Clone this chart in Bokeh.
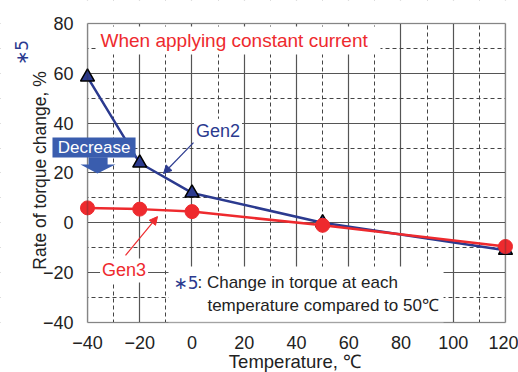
from math import pi
from bokeh.plotting import figure
from bokeh.models import (Label, BoxAnnotation, PolyAnnotation, Arrow, NormalHead,
                          FixedTicker, Range1d)
from bokeh.embed import file_html
from bokeh.resources import INLINE

# ---- data ----
temps = [-40, -20, 0, 50, 120]
gen2 = [58.5, 24, 12, 0, -11]
gen3 = [6, 5.5, 4.5, -1, -9.5]
x_ticks = [-40, -20, 0, 20, 40, 60, 80, 100, 120]
x_minor = [-30, -10, 10, 30, 50, 70, 90, 110]
y_ticks = [-40, -20, 0, 20, 40, 60, 80]
y_minor = [-30, -10, 10, 30, 50, 70]
x_tick_labels = {-40: "\u221240", -20: "\u221220"}
y_tick_labels = {-40: "\u221240", -20: "\u221220"}

NAVY = "#2B3A8F"
RED = "#EE2A2E"
BLUE_BOX = "#3A5DAE"
INK = "#222222"
FONT = "Liberation Sans"

X0, X1, Y0, Y1 = -40, 120, -40, 80
# the data frame covers the whole canvas, so that call-outs, tick labels and
# axis titles in the margins are not clipped
XL, XR = -73.30, 124.98
YB, YT = -60.07, 89.23

p = figure(width=518, height=372, x_range=Range1d(XL, XR), y_range=Range1d(YB, YT),
           output_backend="svg", toolbar_location=None,
           min_border_left=0, min_border_right=0, min_border_top=0, min_border_bottom=0)
p.background_fill_color = "white"
p.border_fill_color = "white"
p.outline_line_color = None

p.xaxis.ticker = FixedTicker(ticks=x_ticks, minor_ticks=x_minor)
p.yaxis.ticker = FixedTicker(ticks=y_ticks, minor_ticks=y_minor)
p.xaxis.fixed_location = Y0
p.yaxis.fixed_location = X0
p.xaxis.major_label_overrides = x_tick_labels
p.yaxis.major_label_overrides = y_tick_labels
for ax in (p.xaxis, p.yaxis):
    ax.axis_line_color = None
    ax.major_tick_line_color = None
    ax.minor_tick_line_color = None
    ax.major_label_text_font = FONT
    ax.major_label_text_font_size = "18px"
    ax.major_label_text_color = INK
p.yaxis.major_label_standoff = 8
p.xaxis.major_label_standoff = 8

for g in (p.xgrid, p.ygrid):
    g.grid_line_color = "#555555"
    g.grid_line_width = 1.2
    g.minor_grid_line_color = "#444444"
    g.minor_grid_line_dash = "4 3"
    g.minor_grid_line_width = 1

# white masks over the grid outside the plotting box
p.quad(left=[XL, XL, XL, X1], right=[X0, XR, XR, XR],
       bottom=[YB, YB, Y1, YB], top=[YT, Y0, YT, YT],
       fill_color="white", line_color=None)

# series
p.line(temps, gen2, line_color=NAVY, line_width=2.5)
p.scatter(temps, gen2, marker="triangle", size=14, fill_color=NAVY, line_color="black", line_width=1.5)
p.line(temps, gen3, line_color=RED, line_width=2.5)
p.scatter(temps, gen3, marker="circle", size=14, fill_color=RED, line_color=RED)

# white boxes behind texts
p.add_layout(BoxAnnotation(left=-36.55, right=72.15, bottom=67.6, top=78.8,
                           fill_color="white", fill_alpha=1, line_color=None))
p.add_layout(BoxAnnotation(left=-9.0, right=96.3, bottom=-40, top=-17.5,
                           fill_color="white", fill_alpha=1, line_color=None))

# plot frame
p.add_layout(BoxAnnotation(left=X0, right=X1, bottom=Y0, top=Y1, fill_alpha=0,
                           line_color="#333333", line_width=1.6))

# title
p.add_layout(Label(x=-35.0, y=73.2, text="When applying constant current", text_color=RED,
                   text_font=FONT, text_font_size="19px", text_baseline="middle"))

# Gen2 label and arrow
p.add_layout(Label(x=9.95, y=37.0, text="Gen2", text_color=NAVY, text_font=FONT,
                   text_font_size="18px", text_align="center", text_baseline="middle",
                   background_fill_color="white", padding=2))
p.add_layout(Arrow(x_start=0.57, y_start=32.2, x_end=-10.9, y_end=19.8,
                   line_color=NAVY, line_width=1.2,
                   end=NormalHead(size=8, fill_color=NAVY, line_color=NAVY)))

# Gen3 label and arrow
p.add_layout(Label(x=-26.0, y=-19.1, text="Gen3", text_color=RED, text_font=FONT,
                   text_font_size="18px", text_align="center", text_baseline="middle",
                   background_fill_color="white", padding=2))
p.add_layout(Arrow(x_start=-25.45, y_start=-13.1, x_end=-13.2, y_end=2.5,
                   line_color=RED, line_width=1.2,
                   end=NormalHead(size=8, fill_color=RED, line_color=RED)))

# Decrease call-out
p.add_layout(BoxAnnotation(left=-53.4, right=-21.6, bottom=26.2, top=34.25,
                           fill_color=BLUE_BOX, fill_alpha=1, line_color=None))
p.add_layout(PolyAnnotation(xs=[-39.6, -32.3, -32.3, -29.3, -36.2, -42.7, -39.6],
                            ys=[26.3, 26.3, 23.4, 23.4, 19.8, 23.4, 23.4],
                            fill_color=BLUE_BOX, fill_alpha=1, line_color=None))
p.add_layout(Label(x=-37.5, y=30.2, text="Decrease", text_color="white", text_font=FONT,
                   text_font_size="17px", text_align="center", text_baseline="middle"))

# footnote
p.add_layout(Label(x=-7.1, y=-23.95, text="\u22175", text_color=NAVY, text_font="DejaVu Sans",
                   text_font_size="17px", text_baseline="middle"))
p.add_layout(Label(x=2.1, y=-23.95, text=": Change in torque at each", text_color=INK,
                   text_font=FONT, text_font_size="17px", text_baseline="middle"))
p.add_layout(Label(x=5.9, y=-33.2, text="temperature compared to 50\u2103", text_color=INK,
                   text_font=FONT, text_font_size="17px", text_baseline="middle"))

# axis titles
p.add_layout(Label(x=-58.0, y=21.0, text="Rate of torque change, %", angle=pi / 2,
                   text_color=INK, text_font=FONT, text_font_size="17.5px",
                   text_align="center", text_baseline="middle"))
p.add_layout(Label(x=-64.9, y=68.4, text="\u22175", angle=pi / 2,
                   text_color=NAVY, text_font="DejaVu Sans", text_font_size="17px",
                   text_align="center", text_baseline="middle"))
p.add_layout(Label(x=39.4, y=-55.7, text="Temperature, \u2103",
                   text_color=INK, text_font=FONT, text_font_size="18.5px",
                   text_align="center", text_baseline="middle"))

open("out.html", "w").write(file_html(p, INLINE))
